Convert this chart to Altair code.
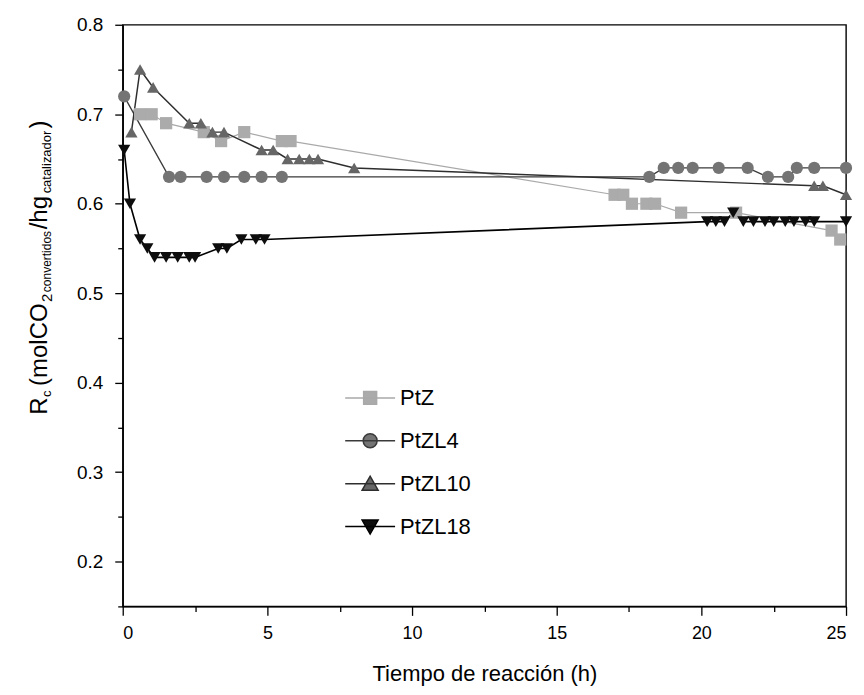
import altair as alt
import pandas as pd

# ---------------- data ----------------
series_names = ["PtZ", "PtZL4", "PtZL10", "PtZL18"]

ptz_t = [0.6, 1.0, 1.5, 2.8, 3.4, 4.2, 5.5, 5.8, 17.0, 17.3, 17.6, 18.1, 18.4, 19.3, 21.2, 24.5, 24.8]
ptz_y = [0.70, 0.70, 0.69, 0.68, 0.67, 0.68, 0.67, 0.67, 0.61, 0.61, 0.60, 0.60, 0.60, 0.59, 0.59, 0.57, 0.56]

ptzl4_t = [0.05, 1.6, 2.0, 2.9, 3.5, 4.2, 4.8, 5.5, 18.2, 18.7, 19.2, 19.7, 20.6, 21.6, 22.3, 23.0, 23.3, 23.9, 25.0]
ptzl4_y = [0.72, 0.63, 0.63, 0.63, 0.63, 0.63, 0.63, 0.63, 0.63, 0.64, 0.64, 0.64, 0.64, 0.64, 0.63, 0.63, 0.64, 0.64, 0.64]

ptzl10_t = [0.3, 0.6, 1.05, 2.3, 2.7, 3.1, 3.5, 4.8, 5.2, 5.7, 6.1, 6.45, 6.75, 8.0, 23.9, 24.2, 25.0]
ptzl10_y = [0.68, 0.75, 0.73, 0.69, 0.69, 0.68, 0.68, 0.66, 0.66, 0.65, 0.65, 0.65, 0.65, 0.64, 0.62, 0.62, 0.61]

ptzl18_t = [0.05, 0.25, 0.6, 0.85, 1.1, 1.5, 1.9, 2.3, 2.5, 3.3, 3.6, 4.1, 4.6, 4.9,
            20.2, 20.5, 20.8, 21.1, 21.45, 21.8, 22.2, 22.5, 22.9, 23.2, 23.6, 23.9, 25.0]
ptzl18_y = [0.66, 0.60, 0.56, 0.55, 0.54, 0.54, 0.54, 0.54, 0.54, 0.55, 0.55, 0.56, 0.56, 0.56,
            0.58, 0.58, 0.58, 0.59, 0.58, 0.58, 0.58, 0.58, 0.58, 0.58, 0.58, 0.58, 0.58]

x_ticks = [0, 2.5, 5, 7.5, 10, 12.5, 15, 17.5, 20, 22.5, 25]
y_ticks = [0.15, 0.2, 0.25, 0.3, 0.35, 0.4, 0.45, 0.5, 0.55, 0.6, 0.65, 0.7, 0.75, 0.8]

# ---------------- styles ----------------
line_colors = ["#a9a9a9", "#3a3a3a", "#2e2e2e", "#000000"]
fill_colors = ["#ababab", "#747474", "#666666", "#0d0d0d"]
line_widths = [1.2, 1.6, 1.6, 1.8]
shapes = ["square", "circle", "triangle-up", "triangle-down"]
legend_paths = [
    "M-1,0H1M-0.26,-0.26H0.26V0.26H-0.26Z",
    "M-1,0H1M0.28,0A0.28,0.28 0 1,1 -0.28,0A0.28,0.28 0 1,1 0.28,0Z",
    "M-1,0H1M-0.32,0.26L0,-0.3L0.32,0.26Z",
    "M-1,0H1M-0.32,-0.26L0,0.3L0.32,-0.26Z",
]
FONT = "Liberation Sans"

rows = []
for name, ts, ys in zip(series_names, [ptz_t, ptzl4_t, ptzl10_t, ptzl18_t],
                        [ptz_y, ptzl4_y, ptzl10_y, ptzl18_y]):
    for t, v in zip(ts, ys):
        rows.append({"serie": name, "t": t, "rc": v})
df = pd.DataFrame(rows)

x_enc = alt.X("t:Q", scale=alt.Scale(domain=[0, 25], nice=False, zero=False),
              axis=alt.Axis(values=x_ticks, title="Tiempo de reacción (h)",
                            labelExpr="datum.value % 5 == 0 ? format(datum.value, 'd') : ''",
                            tickSize={"condition": {"test": "datum.value % 5 == 0", "value": 9}, "value": 5},
                            labelPadding=9, titlePadding=21, titleFontSize=22,
                            titleFontWeight="normal", grid=False))
y_enc = alt.Y("rc:Q", scale=alt.Scale(domain=[0.15, 0.8], nice=False, zero=False),
              axis=alt.Axis(values=y_ticks, title=None, grid=False,
                            labelExpr="abs(datum.value*10 - round(datum.value*10)) < 0.001 ? format(datum.value, '.1f') : ''",
                            tickSize={"condition": {"test": "abs(datum.value*10 - round(datum.value*10)) < 0.001", "value": 8}, "value": 5},
                            labelPadding=12, labelFontSize=19))

base = alt.Chart(df)

lines = base.mark_line(opacity=1).encode(
    x=x_enc, y=y_enc,
    color=alt.Color("serie:N", scale=alt.Scale(domain=series_names, range=line_colors), legend=None),
    strokeWidth=alt.StrokeWidth("serie:N", scale=alt.Scale(domain=series_names, range=line_widths), legend=None),
    detail="serie:N",
)

points = base.mark_point(filled=True, size=150, opacity=1).encode(
    x=x_enc, y=y_enc,
    shape=alt.Shape("serie:N", scale=alt.Scale(domain=series_names, range=shapes), legend=None),
    color=alt.Color("serie:N", scale=alt.Scale(domain=series_names, range=fill_colors), legend=None),
)

legend_layer = base.transform_filter("false").mark_point(filled=True, opacity=1, strokeWidth=1.5).encode(
    shape=alt.Shape("serie:N", scale=alt.Scale(domain=series_names, range=legend_paths),
                    legend=alt.Legend(title=None, orient="none", legendX=222, legendY=359,
                                      symbolSize=2500, clipHeight=30, rowPadding=13,
                                      labelFontSize=22, labelFont=FONT, labelColor="black",
                                      labelOffset=4, symbolStrokeWidth=1.5, symbolOpacity=1,
                                      padding=0)),
    fill=alt.Fill("serie:N", scale=alt.Scale(domain=series_names, range=fill_colors)),
    stroke=alt.Stroke("serie:N", scale=alt.Scale(domain=series_names, range=line_colors)),
)

# y-axis title with subscripts, composed of rotated text pieces
one = pd.DataFrame({"k": [0]})
def piece(txt, size, xpos, ypos):
    return alt.Chart(one).mark_text(text=txt, angle=270, align="left", baseline="alphabetic",
                                    font=FONT, fontSize=size, color="black").encode(
        x=alt.value(xpos), y=alt.value(ypos))

title_parts = [
    piece("R", 24, -76, 391),
    piece("c", 13, -72, 373),
    piece("(molCO", 24, -76, 362),
    piece("2", 15, -71, 278),
    piece("convertidos", 12, -72, 268),
    piece("/hg", 24, -76, 205),
    piece("catalizador", 13, -72, 169),
    piece(")", 24, -76, 104),
]

chart = alt.layer(lines, points, legend_layer, *title_parts).resolve_scale(
    shape="independent", fill="independent", stroke="independent", color="independent"
).properties(
    width=725, height=583,
    background="white",
    autosize=alt.AutoSizeParams(type="none"),
    padding={"left": 115, "top": 16, "right": 10, "bottom": 80},
).configure_view(
    stroke="black", strokeWidth=1.4
).configure_axis(
    grid=False, domainColor="black", domainWidth=1.4, tickColor="black", tickWidth=1.3,
    labelFont=FONT, labelFontSize=18, labelColor="black", titleFont=FONT, titleColor="black",
)

chart.save("out.html", embed_options={"renderer": "svg", "actions": False})
